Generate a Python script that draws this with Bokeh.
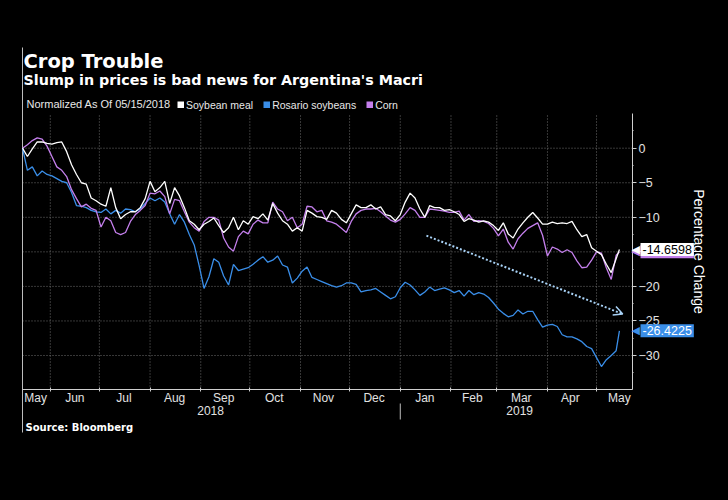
import pandas as pd
from bokeh.plotting import figure
from bokeh.models import (Range1d, LinearAxis, FixedTicker, Label, Legend, LegendItem,
                          Arrow, OpenHead)
from bokeh.embed import file_html
from bokeh.resources import INLINE

# ---------------- data ----------------
dates = [
    "2018-05-15", "2018-05-18", "2018-05-21", "2018-05-24", "2018-05-27", "2018-05-30",
    "2018-06-02", "2018-06-05", "2018-06-08", "2018-06-11", "2018-06-14", "2018-06-17", "2018-06-20", "2018-06-23", "2018-06-26", "2018-06-29",
    "2018-07-02", "2018-07-05", "2018-07-08", "2018-07-11", "2018-07-14", "2018-07-17", "2018-07-20", "2018-07-23", "2018-07-26", "2018-07-29",
    "2018-08-01", "2018-08-04", "2018-08-07", "2018-08-10", "2018-08-13", "2018-08-16", "2018-08-19", "2018-08-22", "2018-08-25", "2018-08-28", "2018-08-31",
    "2018-09-03", "2018-09-06", "2018-09-09", "2018-09-12", "2018-09-15", "2018-09-18", "2018-09-21", "2018-09-24", "2018-09-27", "2018-09-30",
    "2018-10-03", "2018-10-06", "2018-10-09", "2018-10-12", "2018-10-15", "2018-10-18", "2018-10-21", "2018-10-24", "2018-10-27", "2018-10-30",
    "2018-11-02", "2018-11-05", "2018-11-08", "2018-11-11", "2018-11-14", "2018-11-17", "2018-11-20", "2018-11-23", "2018-11-26", "2018-11-29",
    "2018-12-02", "2018-12-05", "2018-12-08", "2018-12-11", "2018-12-14", "2018-12-17", "2018-12-20", "2018-12-23", "2018-12-26", "2018-12-29",
    "2019-01-01", "2019-01-04", "2019-01-07", "2019-01-10", "2019-01-13", "2019-01-16", "2019-01-19", "2019-01-22", "2019-01-25", "2019-01-28", "2019-01-31",
    "2019-02-03", "2019-02-06", "2019-02-09", "2019-02-12", "2019-02-15", "2019-02-18", "2019-02-21", "2019-02-24", "2019-02-27",
    "2019-03-02", "2019-03-05", "2019-03-08", "2019-03-11", "2019-03-14", "2019-03-17", "2019-03-20", "2019-03-23", "2019-03-26", "2019-03-29",
    "2019-04-01", "2019-04-04", "2019-04-07", "2019-04-10", "2019-04-13", "2019-04-16", "2019-04-19", "2019-04-22", "2019-04-25", "2019-04-28",
    "2019-05-01", "2019-05-04", "2019-05-07", "2019-05-10", "2019-05-13", "2019-05-15",
]

soybean_meal = [
    0.0, -1.2, -0.1, 0.9, 0.9, 0.7,
    0.6, 0.8, 0.9, -0.5, -2.4, -3.8, -5.0, -5.2, -7.2, -7.6,
    -8.1, -8.4, -5.7, -8.6, -10.2, -9.6, -9.2, -9.2, -8.6, -7.3,
    -4.8, -6.3, -5.7, -4.8, -8.0, -5.7, -6.9, -8.6, -10.5, -11.0, -11.8,
    -11.0, -10.6, -10.1, -11.2, -12.2, -11.5, -10.0, -11.8, -10.5, -11.0,
    -9.9, -10.2, -9.5, -10.4, -8.0, -9.4, -10.5, -11.0, -12.0, -11.5,
    -12.0, -9.0, -9.4, -9.9, -10.0, -10.3, -9.0, -9.4, -10.3, -10.8,
    -9.5, -8.2, -8.6, -8.6, -8.2, -8.8, -8.5, -9.6, -9.8, -10.5,
    -9.6, -7.8, -6.5, -7.2, -8.8, -10.0, -8.3, -8.6, -8.6, -9.0, -8.9,
    -9.2, -9.6, -10.6, -10.2, -10.4, -10.7, -10.5, -10.7, -11.2,
    -11.9, -10.8, -12.4, -13.0, -11.7, -10.8, -10.0, -9.3, -10.1, -11.0,
    -11.0, -10.7, -10.9, -10.8, -10.9, -10.6, -11.8, -12.8, -12.5, -14.4,
    -14.9, -15.4, -16.8, -18.0, -16.0, -14.6598,
]

rosario_soybeans = [
    0.0, -3.2, -2.7, -4.0, -3.3, -3.8,
    -4.0, -4.4, -4.8, -5.0, -6.4, -8.3, -8.4, -8.6, -9.0, -9.2,
    -9.3, -8.8, -9.5, -9.0, -9.4, -8.8, -8.9, -9.2, -8.8, -8.0,
    -7.2, -7.6, -7.2, -7.8, -9.5, -11.0, -9.6, -10.7, -12.5, -14.0, -17.0,
    -20.3, -18.6, -16.0, -16.5, -18.5, -19.8, -16.8, -17.7, -17.5, -17.3,
    -16.8, -16.2, -15.7, -16.5, -16.2, -15.6, -16.9, -17.2, -19.5, -18.8,
    -17.8, -17.2, -18.7, -19.0, -19.3, -19.6, -19.9, -20.1, -19.9, -19.5,
    -19.5, -19.7, -20.8, -20.6, -20.5, -20.3, -20.8, -21.3, -21.8, -21.5,
    -20.2, -19.4, -19.8, -20.5, -21.3, -20.8, -20.1, -20.6, -20.4, -20.2, -20.5,
    -20.9, -20.6, -21.4, -20.6, -21.2, -20.9, -21.1, -21.6, -22.4,
    -23.3, -23.9, -24.4, -24.2, -23.4, -24.0, -23.6, -23.6, -24.8, -25.9,
    -25.6, -25.5, -25.8, -27.0, -27.3, -27.3, -27.6, -28.0, -28.7, -29.0,
    -30.3, -31.6, -30.6, -30.0, -29.3, -26.4225,
]

corn = [
    0.0, 0.5, 1.1, 1.5, 1.3, 0.3,
    -1.2, -2.7, -3.2, -4.1, -6.0, -7.3, -8.5, -8.1, -8.7, -9.0,
    -11.4, -10.0, -10.5, -12.2, -12.5, -12.2, -10.6, -9.6, -9.0, -8.3,
    -6.5, -6.6, -6.2, -7.0, -9.5, -7.4, -7.6, -9.2, -10.7, -11.5, -12.0,
    -10.6, -10.0, -10.0, -10.4, -13.0, -14.3, -14.9, -12.8, -12.0, -12.4,
    -11.0, -10.4, -10.8, -10.8, -7.8, -8.8, -9.2, -10.5, -10.0, -11.5,
    -11.0, -8.4, -8.5, -9.2, -9.0, -10.5, -10.7, -11.0, -11.6, -12.2,
    -10.6, -9.5, -9.0, -8.8, -8.8, -8.7, -9.2, -9.8, -10.4, -10.7,
    -10.3, -9.5, -8.6, -9.0, -10.0, -10.0, -8.8, -8.9, -9.0, -9.1, -9.3,
    -9.3, -9.1, -10.4, -9.6, -10.6, -10.5, -10.6, -10.9, -11.6,
    -12.7, -11.7, -13.6, -14.6, -13.1, -12.3, -11.6, -11.2, -10.8, -12.6,
    -15.6, -14.3, -14.6, -15.1, -14.7, -15.1, -16.3, -17.3, -17.2, -16.2,
    -15.0, -15.2, -17.3, -19.0, -15.5, -15.0,
]

series_names = ["Soybean meal", "Rosario soybeans", "Corn"]

month_labels = ["May", "Jun", "Jul", "Aug", "Sep", "Oct", "Nov", "Dec",
                "Jan", "Feb", "Mar", "Apr", "May"]
month_label_dates = ["2018-05-23", "2018-06-16", "2018-07-16", "2018-08-16", "2018-09-15",
                     "2018-10-16", "2018-11-15", "2018-12-16", "2019-01-16", "2019-02-14",
                     "2019-03-16", "2019-04-15", "2019-05-15"]
month_starts = ["2018-06-01", "2018-07-01", "2018-08-01", "2018-09-01", "2018-10-01",
                "2018-11-01", "2018-12-01", "2019-01-01", "2019-02-01", "2019-03-01",
                "2019-04-01", "2019-05-01"]
year_labels = ["2018", "2019"]
year_label_dates = ["2018-09-07", "2019-03-15"]
year_break = "2019-01-01"

y_ticks = [-30, -25, -20, -15, -10, -5, 0]
y_minor_ticks = [-32.5, -27.5, -22.5, -17.5, -12.5, -7.5, -2.5, 2.5]

trend_start = ("2019-01-17", -12.65)
trend_end = ("2019-05-17", -24.0)

x_start, x_axis_end = "2018-05-15", "2019-05-23"

title = "Crop Trouble"
subtitle = "Slump in prices is bad news for Argentina's Macri"
note = "Normalized As Of 05/15/2018"
source = "Source: Bloomberg"
y_title = "Percentage Change"

# ---------------- layout (pixels) ----------------
W, H = 728, 500
PLOT_L, PLOT_R, PLOT_T, PLOT_B = 22, 632, 113, 389
Y0_PX, PX_PER_UNIT = 147.7, 6.91


def ms(d):
    return pd.Timestamp(d).value / 1e6


MS_PER_PX = (ms(x_axis_end) - ms(x_start)) / (PLOT_R - PLOT_L)


def yval(py):
    return (Y0_PX - py) / PX_PER_UNIT


x_lo = ms(x_start) - PLOT_L * MS_PER_PX
x_hi = ms(x_start) + (W - PLOT_L) * MS_PER_PX

WHITE = "#ffffff"
BLUE = "#3a8ee8"
PURPLE = "#c47fec"
GRID = "#6e6e6e"
AXIS = "#cfcfcf"
TICKTXT = "#e2e2e2"
SANS = "Liberation Sans"
BOLD = "DejaVu Sans"

x = pd.to_datetime(dates)

p = figure(width=W, height=H, output_backend="svg", toolbar_location=None,
           x_axis_location=None, y_axis_location=None,
           x_range=Range1d(x_lo, x_hi), y_range=Range1d(yval(H), yval(0)),
           background_fill_color="black", border_fill_color="black",
           outline_line_color=None, min_border=0)
p.xgrid.visible = False
p.ygrid.visible = False

y_lo_plot, y_hi_plot = yval(PLOT_B), yval(PLOT_T)
x_axis_ms = ms(x_axis_end)

# grid lines (dotted), limited to the plotting area
ms_starts = [ms(d) for d in month_starts]
p.segment(x0=ms_starts, y0=[y_lo_plot] * len(ms_starts), x1=ms_starts, y1=[y_hi_plot] * len(ms_starts),
          line_color=GRID, line_dash="1 2", line_width=1)
p.segment(x0=[ms(x_start)] * len(y_ticks), y0=y_ticks, x1=[x_axis_ms] * len(y_ticks), y1=y_ticks,
          line_color=GRID, line_dash="1 2", line_width=1)

# left rule running from the headline to the source line
p.segment(x0=[ms(x_start)], y0=[yval(47)], x1=[ms(x_start)], y1=[yval(432)],
          line_color="#bdbdbd", line_width=1)
# year separator
p.segment(x0=[ms(year_break)], y0=[yval(403)], x1=[ms(year_break)], y1=[yval(419)],
          line_color="#bdbdbd", line_width=1)

# lines
p.line(x, rosario_soybeans, line_color=BLUE, line_width=1.3)
p.line(x, corn, line_color=PURPLE, line_width=1.3)
p.line(x, soybean_meal, line_color=WHITE, line_width=1.3)

# month axis
month_axis = LinearAxis(
    fixed_location=y_lo_plot, bounds=(ms(x_start), x_axis_ms),
    ticker=FixedTicker(ticks=[ms(d) for d in month_label_dates], minor_ticks=ms_starts),
    major_label_overrides={ms(d): lab for d, lab in zip(month_label_dates, month_labels)},
    major_tick_line_color=None, major_tick_in=0, major_tick_out=0,
    minor_tick_line_color=AXIS, minor_tick_in=2, minor_tick_out=2,
    axis_line_color=AXIS, major_label_standoff=-1,
    major_label_text_color=TICKTXT, major_label_text_font=SANS,
    major_label_text_font_size="12px")
p.add_layout(month_axis, "below")

# year axis
year_axis = LinearAxis(
    fixed_location=y_lo_plot, bounds=(ms(x_start), x_axis_ms),
    ticker=FixedTicker(ticks=[ms(d) for d in year_label_dates], minor_ticks=[]),
    major_label_overrides={ms(d): lab for d, lab in zip(year_label_dates, year_labels)},
    major_tick_line_color=None, major_tick_in=0, major_tick_out=0,
    minor_tick_line_color=None, axis_line_color=None, major_label_standoff=16,
    major_label_text_color=TICKTXT, major_label_text_font=SANS,
    major_label_text_font_size="12px")
p.add_layout(year_axis, "below")

# right axis
y_axis = LinearAxis(
    fixed_location=x_axis_ms, bounds=(y_lo_plot, y_hi_plot),
    ticker=FixedTicker(ticks=y_ticks, minor_ticks=y_minor_ticks),
    axis_label=y_title, axis_label_text_color=WHITE,
    axis_label_text_font=SANS, axis_label_text_font_size="14px",
    axis_label_text_font_style="normal", axis_label_standoff=28,
    axis_line_color=AXIS, major_tick_line_color=AXIS, major_tick_in=0, major_tick_out=4,
    minor_tick_line_color=AXIS, minor_tick_in=0, minor_tick_out=1,
    major_label_standoff=2, major_label_text_color=TICKTXT,
    major_label_text_font=SANS, major_label_text_font_size="12.5px")
p.add_layout(y_axis, "right")

# trend arrow
arrow_color = "#a8d2f6"
p.add_layout(Arrow(end=OpenHead(size=9, line_color=arrow_color, line_width=1.5),
                   x_start=ms(trend_start[0]), y_start=trend_start[1],
                   x_end=ms(trend_end[0]), y_end=trend_end[1],
                   line_color=arrow_color, line_width=2, line_dash="2 2"))


# last-value tags
def tag(val, bg, fg):
    p.add_layout(Label(x=x_axis_ms, y=val, text="\u25c0", x_offset=-1,
                       text_baseline="middle", text_align="left",
                       text_font=BOLD, text_font_size="11px", text_color=bg))
    p.add_layout(Label(x=x_axis_ms, y=val, text=f"{val:.4f}", x_offset=8,
                       text_baseline="middle", text_align="left",
                       text_font=SANS, text_font_size="12.5px", text_color=fg,
                       background_fill_color=bg, padding=2))


tag(corn[-1], PURPLE, "black")
tag(soybean_meal[-1], WHITE, "black")
tag(rosario_soybeans[-1], BLUE, WHITE)

# legend (square swatches drawn as thick short line glyphs)
nan = float("nan")
swatches = [p.line([nan], [nan], line_width=7, line_color=c, line_cap="butt")
            for c in (WHITE, BLUE, PURPLE)]
legend = Legend(items=[LegendItem(label=n, renderers=[r]) for n, r in zip(series_names, swatches)],
                orientation="horizontal", location=(177, H - 110.5),
                background_fill_alpha=0, border_line_color=None,
                label_text_color="#e8e8e8", label_text_font=SANS, label_text_font_size="10.5px",
                glyph_width=7, glyph_height=7, label_standoff=2, spacing=10,
                padding=0, margin=0, label_height=12)
p.add_layout(legend, "center")

# texts
p.add_layout(Label(x=23, y=H - 61, x_units="screen", y_units="screen", text=title,
                   text_font=BOLD, text_font_style="bold", text_font_size="19.5px",
                   text_color=WHITE, text_baseline="alphabetic"))
p.add_layout(Label(x=23, y=H - 79, x_units="screen", y_units="screen", text=subtitle,
                   text_font=BOLD, text_font_style="bold", text_font_size="14.3px",
                   text_color=WHITE, text_baseline="alphabetic"))
p.add_layout(Label(x=26, y=H - 103.5, x_units="screen", y_units="screen", text=note,
                   text_font=SANS, text_font_size="11px",
                   text_color="#e8e8e8", text_baseline="middle"))
p.add_layout(Label(x=25, y=H - 427, x_units="screen", y_units="screen", text=source,
                   text_font=BOLD, text_font_style="bold", text_font_size="10px",
                   text_color=WHITE, text_baseline="alphabetic"))

html = file_html(p, INLINE)
html = html.replace("<head>", "<head><style>body{background:#000;margin:0;}</style>", 1)
open("out.html", "w").write(html)
